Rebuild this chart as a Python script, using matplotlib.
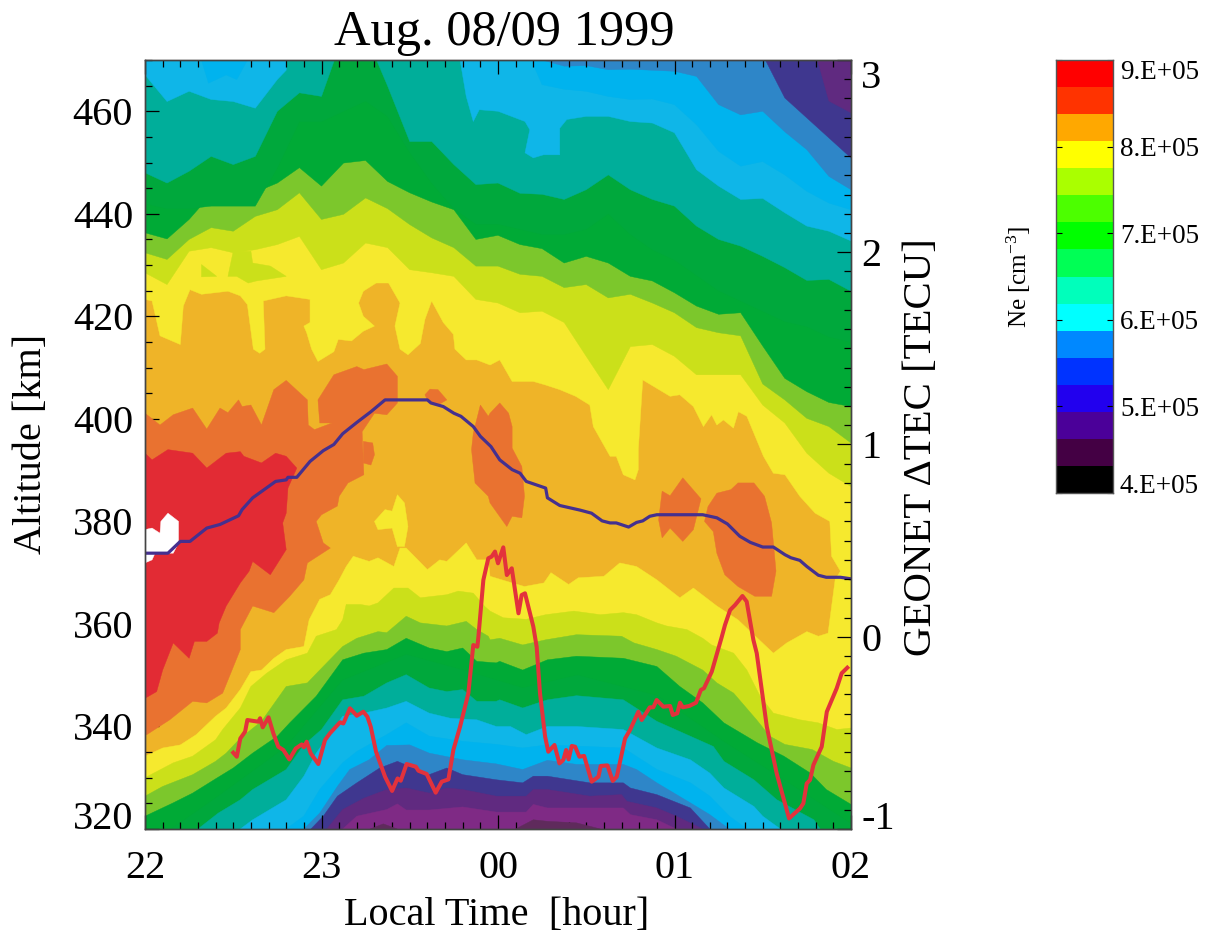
import matplotlib
matplotlib.use("Agg")
import matplotlib.pyplot as plt
from matplotlib.colors import ListedColormap, BoundaryNorm
from matplotlib.ticker import MultipleLocator
import numpy as np

plt.rcParams['font.family'] = ['Liberation Serif', 'DejaVu Serif']
plt.rcParams['mathtext.default'] = 'regular'

# ---------- titles and ticks ----------
title = "Aug. 08/09 1999"
x_label = "Local Time  [hour]"
y_label = "Altitude [km]"
y2_label = "GEONET \u0394TEC [TECU]"
cbar_label = "Ne [cm$^{-3}$]"
hour_ticks = [22, 23, 24, 25, 26]
hour_labels = ["22", "23", "00", "01", "02"]
alt_ticks = [320, 340, 360, 380, 400, 420, 440, 460]
tec_ticks = [-1, 0, 1, 2, 3]
tec_labels = ["-1", "0", "1", "2", "3"]
ne_ticks = [4, 5, 6, 7, 8, 9]
ne_labels = ["4.E+05", "5.E+05", "6.E+05", "7.E+05", "8.E+05", "9.E+05"]

# ---------- Ne colour scale (chart colours, printed colour bar colours), low to high ----------
chart_colors = ["#5f2a5c", "#7f2a85", "#602a80", "#3f378f", "#2e86c8", "#00b3ee", "#0fb6e8", "#00ae9a",
                "#00a83c", "#00aa36", "#7cc72c", "#cbe01a", "#f6e92e", "#efb428", "#e97230", "#e22b34"]
bar_colors = ["#000000", "#440044", "#4b0099", "#2200ee", "#0033ff", "#0088ff", "#00ffff", "#00ffbb",
              "#00ff55", "#00ff00", "#4cff00", "#aaff00", "#ffff00", "#ffa800", "#ff3300", "#ff0000"]
ne_edges = [4.0, 4.3125, 4.625, 4.9375, 5.25, 5.5625, 5.875, 6.1875, 6.5, 6.8125, 7.125, 7.4375, 7.75, 8.0625,
            8.375, 8.6875, 9.0]

# ---------- topside contour altitudes on a common hour grid ----------
hours_grid = [22, 22.125, 22.25, 22.375, 22.5, 22.625, 22.75, 22.875, 23, 23.125, 23.25, 23.375, 23.5, 23.625,
              23.75, 23.875, 24, 24.125, 24.25, 24.375, 24.5, 24.625, 24.75, 24.875, 25, 25.125, 25.25, 25.375,
              25.5, 25.625, 25.75, 25.875, 26]
top_yg = [428.5, 426.2, 432.7, 433.4, 432.4, 433, 434, 435.6, 429.1, 430.4, 434.3, 433.4, 429.1, 428.5, 427.8, 423.3,
          422.6, 420.7, 421, 418.8, 412.2, 405.7, 414.1, 414.5, 412.2, 408.6, 408.6, 408.6, 402.7, 399.2, 393.3,
          389.4, 386.8]
top_lg = [432.4, 431.1, 435, 437.3, 436.6, 439.5, 440.8, 444.1, 438.9, 439.9, 443.1, 441, 437.9, 435.3, 433.4, 429.8,
          429.8, 428.2, 427.8, 425.6, 426.2, 423.6, 424.3, 422.6, 420.7, 417.8, 416.8, 416.2, 406.8, 403.7, 400.1,
          398.5, 395.3]
top_green = [436.3, 435.1, 438.9, 443.8, 442.1, 444.2, 446, 449, 445.4, 449.9, 450.4, 446.3, 444.1, 442.3, 440.8, 435,
             435.8, 434, 433.2, 430.4, 431.7, 430.4, 427.8, 426.9, 424.6, 422, 420.4, 420.7, 414.2, 407.9, 405.3,
             403.2, 402.4]
top_dkgreen = [442, 441, 441, 441.5, 441.5, 441.5, 449, 458, 458, 460, 462, 459, 452, 446, 441, 438, 438, 437, 436,
               436, 437, 440, 436, 433, 431, 428, 425, 423, 421, 419, 418, 416, 415]
top_teal = [448, 446, 448.3, 451.2, 449.6, 451.2, 460, 463.6, 462.9, 475, 475, 464.9, 454.1, 454.1, 449.6, 445.7,
            446, 444, 443.8, 442.8, 444.7, 447.6, 444.7, 442.8, 441.5, 437.6, 435, 433.7, 431.7, 429.5, 427, 427.2,
            424.9]
top_ltblue_t = [22, 22.125, 22.25, 22.375, 22.5, 22.625, 22.75, 22.8, 22.81, 23.7, 23.785, 23.82, 23.86, 23.894, 24,
                24.153, 24.18, 24.153, 24.2, 24.257, 24.35, 24.35, 24.39, 24.5, 24.625, 24.75, 24.875, 25, 25.125,
                25.25, 25.375, 25.5, 25.625, 25.75, 25.875, 26]
top_ltblue_alt = [467.1, 461.9, 463.9, 462.3, 461.9, 460.6, 466.2, 468, 475, 475, 470, 462.9, 458, 460.3, 460,
                  458, 456.4, 451.9, 450.9, 451.5, 451.5, 456.7, 458.4, 459, 459, 458, 457.7, 455.8, 448.6,
                  445.4, 442.8, 443, 440.2, 437.6, 436.6, 434.7]
top_blue = [475, 475, 475, 475, 475, 475, 475, 475, 475, 475, 475, 475, 475, 475, 475, 475,
            475, 475, 465.2, 464.3, 463.9, 462.9, 462.3, 462.4, 461.3, 457.4, 452.2, 449.3, 450.2, 447.6, 444.4,
            442.1, 440.8]
top_medblue = [475, 475, 475, 475, 475, 475, 475, 475, 475, 475, 475, 475, 475, 475, 475, 475,
               475, 475, 470, 468.8, 468.9, 468.1, 468.2, 468, 467.8, 466.8, 461.3, 459.3, 460, 456, 452.5, 447.3,
               444.7]
top_indigo_t = [25.5, 25.625, 25.75, 25.875, 26]
top_indigo_alt = [471, 462.6, 458.7, 454.8, 450.9]
top_purple_t = [25.81, 25.875, 26]
top_purple_alt = [470, 462, 459.7]

# yellow / orange edge above the density peak
top_yellow_t = [22, 22.04, 22.085, 22.2, 22.217, 22.255, 22.32, 22.47, 22.54, 22.58, 22.614, 22.65, 22.68, 22.67, 22.8,
                22.935, 22.935, 22.9, 22.916, 22.944, 22.98, 23.07, 23.095, 23.17, 23.237, 23.3, 23.237, 23.21, 23.237,
                23.31, 23.38, 23.445, 23.416, 23.445, 23.49, 23.56, 23.586, 23.624, 23.69, 23.747, 23.756, 23.82, 23.88,
                23.955, 24.01, 24.08, 24.2, 24.27, 24.35, 24.44, 24.52, 24.54, 24.635, 24.67, 24.71, 24.776, 24.795,
                24.795, 24.82, 24.975, 25.03, 25.107, 25.164, 25.21, 25.24, 25.277, 25.334, 25.362, 25.41, 25.504,
                25.56, 25.626, 25.71, 25.797, 25.88, 25.89, 25.94, 25.91, 26]
top_yellow_alt = [423.3, 423, 416.2, 414.5, 422, 425.2, 424.3, 424.9, 424, 422.3, 413.6, 412.8, 413.6, 423, 424,
                  423.3, 418.8, 418.1, 416.8, 413.6, 411.2, 413.1, 415.5, 415.2, 417.1, 418.1, 420, 422.6, 424.9,
                  426.5, 426.5, 422.6, 418.1, 413.6, 412.5, 414.7, 419.4, 423, 418.8, 416.5, 413.6, 411.5, 411.5,
                  410.5, 411.5, 407.3, 407.3, 406.6, 405.7, 404.4, 402.7, 398.5, 392.7, 392.7, 389.1, 388.1, 390.1,
                  394, 407.6, 404.4, 404.7, 402.4, 398.5, 400.8, 398.8, 399.8, 398.2, 401.4, 400.5, 392.7,
                  389.4, 389.1, 384.9, 381.6, 380, 373.2, 370.3, 368.6, 368.6]

# ---------- bottomside contour edges, each with its own hours ----------
low_yellow_t = [22, 22.1, 22.2, 22.29, 22.4, 22.46, 22.54, 22.6, 22.66, 22.73, 22.8, 22.9, 22.93, 22.99, 23.05, 23.1,
                23.14, 23.18, 23.27, 23.32, 23.41, 23.445, 23.48, 23.6, 23.67, 23.71, 23.82, 23.88, 23.945, 23.955,
                24.08, 24.15, 24.26, 24.3, 24.4, 24.455, 24.6, 24.69, 24.785, 24.9, 25.03, 25.107, 25.24, 25.36,
                25.56, 25.636, 25.75, 25.815, 25.87, 25.88, 25.91, 26]
low_yellow_alt = [334.2, 335.8, 336.4, 338.4, 342, 343.6, 347.2, 350.7, 351, 353.3, 355, 355.6, 360.8, 364.8, 365.7,
                  368.6, 371.2, 373.2, 372.2, 372.9, 371.2, 374.8, 374.8, 370.6, 372.5, 372.2, 375.8, 372.5, 372.5,
                  369.3, 368, 367.3, 368, 370, 367.7, 369, 369.3, 371.9, 371.2, 368.6, 365.1, 367, 363.5, 360.8,
                  354.3, 356.3, 358.5, 357.6, 358.2, 360.8, 368.6, 368.6]
low_yg_t = [22, 22.16, 22.27, 22.4, 22.44, 22.54, 22.6, 22.69, 22.8, 22.92, 22.97, 23.085, 23.12, 23.14, 23.22, 23.27,
            23.32, 23.41, 23.49, 23.56, 23.71, 23.775, 23.86, 23.925, 23.955, 24.03, 24.16, 24.27, 24.43, 24.58, 24.71,
            24.785, 24.9, 24.955, 25.07, 25.16, 25.21, 25.335, 25.41, 25.485, 25.56, 25.71, 25.815, 25.92, 26]
low_yg_alt = [330, 332.9, 334.2, 337.4, 339.4, 343.6, 347.8, 350.4, 353, 354.3, 357.6, 358.9, 360.8, 363.8, 363.8,
              363.5, 364.1, 367, 367, 365.1, 365.7, 366.4, 366, 363.4, 362.5, 361.2, 360.9, 361.8, 362.5, 361.8,
              362.2, 361.8, 360.2, 359.6, 358.9, 357.2, 355.9, 354.3, 351, 345.9, 342.6, 341.3, 340.7, 339.4, 339.7]
low_lg_t = [22, 22.1, 22.27, 22.4, 22.46, 22.54, 22.66, 22.8, 22.92, 22.99, 23.12, 23.2, 23.32, 23.37, 23.48, 23.56,
            23.71, 23.82, 23.88, 23.945, 23.955, 24.01, 24.14, 24.27, 24.445, 24.7, 24.77, 24.9, 25.01, 25.16, 25.24,
            25.335, 25.465, 25.54, 25.625, 25.78, 25.9, 26]
low_lg_alt = [326.4, 328.3, 330.6, 333.2, 334.8, 337.7, 341, 347.8, 348.5, 351, 355.6, 357.2, 358.5, 358.3, 361.5,
              360.2, 359.6, 360.5, 358.9, 357.6, 356.9, 357.2, 355.9, 356.9, 357.9, 357.6, 356.3, 355, 353.7, 351,
              348.5, 346.5, 341.3, 338.1, 336.5, 335.5, 333.2, 331.9]
low_green_t = [22, 22.16, 22.27, 22.41, 22.5, 22.61, 22.75, 22.82, 22.97, 23.12, 23.24, 23.37, 23.48, 23.61, 23.71,
               23.8, 23.88, 23.99, 24.01, 24.14, 24.28, 24.445, 24.71, 24.9, 25.03, 25.16, 25.28, 25.47, 25.62, 25.77,
               25.86, 26]
low_green_alt = [322.5, 325.1, 327, 330, 331.9, 334.8, 338.1, 340.7, 345.9, 353, 354.3, 355, 357.2, 355.3, 354.6,
                 355.3, 352.7, 352.4, 352.7, 351, 353, 353.7, 353.3, 351.7, 347.8, 344.6, 340.7, 336.8, 334.2, 330.9,
                 327.7, 324.8]
low_dkgreen_t = [22.15, 22.4, 22.8, 23.12, 23.48, 23.8, 24.14, 24.45, 24.9, 25.28, 25.6, 26]
low_dkgreen_alt = [320, 326, 336, 349, 354, 351, 347.5, 350, 346, 337, 330, 321]
low_teal_t = [22.3, 22.415, 22.54, 22.61, 22.8, 22.9, 23, 23.12, 23.24, 23.37, 23.48, 23.61, 23.71, 23.8, 23.88, 23.99,
              24.01, 24.14, 24.28, 24.445, 24.71, 24.9, 25.07, 25.22, 25.28, 25.45, 25.58, 25.79, 25.825]
low_teal_alt = [320, 323.1, 325.7, 327.7, 331.6, 336.4, 339.4, 345.2, 345.9, 348.5, 350.1, 347.5, 346.8, 347.2, 344.9,
                344.9, 345.2, 343.6, 345.2, 346, 345.2, 341, 338.4, 336.1, 333.2, 329.6, 325.7, 321.8, 320]
low_ltblue_t = [22.54, 22.61, 22.8, 22.9, 22.97, 23.03, 23.12, 23.24, 23.37, 23.48, 23.61, 23.73, 23.88, 23.99, 24.07,
                24.16, 24.28, 24.445, 24.71, 24.9, 25.09, 25.2, 25.28, 25.45, 25.5, 25.6]
low_ltblue_alt = [320, 321.8, 325.7, 330.3, 334.8, 337.7, 342, 342.6, 343.6, 344.9, 342.6, 341.6, 341.3, 340, 340,
                  338.4, 340, 340, 339.4, 335.8, 333.5, 330.9, 328, 324.4, 322.5, 320]
low_blue_t = [22.8, 22.9, 22.99, 23.12, 23.2, 23.37, 23.48, 23.61, 23.8, 23.99, 24.14, 24.28, 24.71, 24.9, 25.09, 25.2,
              25.31, 25.41]
low_blue_alt = [320, 322.5, 327.7, 332.9, 335.1, 338.4, 340.7, 338.1, 337.1, 336.5, 335.8, 336.4, 335.8, 331.6, 329,
                326.4, 322.5, 320]
low_medblue_t = [22.9, 22.99, 23.09, 23.16, 23.27, 23.37, 23.5, 23.61, 23.8, 23.99, 24.14, 24.28, 24.445, 24.71,
                 24.785, 24.9, 25.09, 25.2, 25.31]
low_medblue_alt = [320, 323.1, 328.3, 331.6, 333.5, 336.3, 336.4, 334.8, 333.5, 332.7, 331.6, 333.4, 332.6, 332.6,
                   331.6, 329, 325.1, 322.8, 320]
low_indigo_t = [22.94, 23.01, 23.09, 23.2, 23.33, 23.43, 23.5, 23.61, 23.71, 23.8, 23.99, 24.14, 24.2, 24.28, 24.52,
                24.71, 24.75, 24.9, 25.09, 25.2]
low_indigo_alt = [320, 322.5, 326.4, 329, 331.9, 333.2, 332.2, 330.6, 331.9, 330.6, 329.6, 329, 330.3, 330.3, 329, 329,
                  328, 326.7, 324.1, 320]
low_purple_t = [23.03, 23.12, 23.24, 23.37, 23.48, 23.61, 23.71, 23.8, 23.99, 24.16, 24.2, 24.28, 24.52, 24.7, 24.73,
                24.9, 25.01, 25.16]
low_purple_alt = [320, 323.8, 326, 327.7, 328, 327, 328, 327.7, 326.4, 326.4, 327.7, 327.7, 326.4, 326.7, 325.4, 324.1,
                  322.5, 320]
low_magenta_t = [23.12, 23.2, 23.37, 23.43, 23.48, 23.61, 23.8, 23.99, 24.16, 24.2, 24.28, 24.71, 24.75, 24.9, 25.01]
low_magenta_alt = [320, 322.5, 323.8, 324.9, 323.7, 323.7, 324.3, 323.3, 323.3, 324.8, 324.1, 324.1, 322.8, 321.8, 320]

# ---------- closed contour patches ----------
plum_a_t = [24.1, 24.2, 24.28, 24.445, 24.58]
plum_a_alt = [320, 321.8, 321.5, 321.2, 320]
plum_b_t = [23.275, 23.35, 23.43]
plum_b_alt = [320, 321, 320]
blue_patch_t = [22.32, 22.36, 22.46, 22.52, 22.58]
blue_patch_alt = [470, 465.5, 467.1, 466.2, 470]
yg_patch_a_t = [22.32, 22.406, 22.32]
yg_patch_a_alt = [430.1, 427.8, 427.7]
yg_patch_b_t = [22.5, 22.6, 22.61, 22.71, 22.8, 22.63, 22.585, 22.52, 22.47]
yg_patch_b_alt = [432.7, 432.7, 430.4, 429.8, 427.8, 426.9, 426.5, 427.8, 427.8]
yellow_patch_t = [23.3, 23.36, 23.4, 23.43, 23.47, 23.49, 23.47, 23.43, 23.4, 23.32]
yellow_patch_alt = [380, 382.3, 382, 385.2, 383.6, 379, 375.1, 375.1, 378.7, 378.4]
ro_main_t = [22, 22.085, 22.16, 22.27, 22.35, 22.425, 22.47, 22.53, 22.55, 22.6, 22.66, 22.73, 22.8, 22.92, 22.925,
             22.96, 23.06, 22.99, 22.98, 23.07, 23.2, 23.24, 23.37, 23.43, 23.43, 23.37, 23.3, 23.23, 23.24, 23.15,
             23.1, 23.09, 23, 22.97, 23.01, 23.05, 22.92, 22.9, 22.82, 22.73, 22.61, 22.54, 22.54, 22.44, 22.35, 22.27,
             22.14, 22.01, 22]
ro_main_alt = [401.1, 398.8, 400.8, 402.1, 398, 402.1, 401.2, 403.7, 402.4, 402.7, 398.8, 405.7, 407.5, 403.7, 398.8,
               397.9, 399.2, 399.2, 403.7, 408.6, 410.2, 409.6, 410.7, 408.3, 403.1, 400.8, 401.1, 397.5, 389.1, 387.5,
               384.9, 383, 381.3, 380, 375.8, 374.8, 371.9, 368.6, 365.4, 362.2, 363.5, 358.9, 355, 346.5, 344.6, 344.9,
               341.3, 338.4, 338.4]
ro_a_t = [23.237, 23.29, 23.3, 23.28, 23.237]
ro_a_alt = [395.6, 395.3, 393, 391, 391.4]
ro_b_t = [23.586, 23.615, 23.66, 23.71, 23.66, 23.6]
ro_b_alt = [404.7, 405.8, 405.7, 403.7, 402.7, 403.7]
ro_c_t = [23.86, 23.9, 23.945, 23.955, 24.01, 24.06, 24.08, 24.08, 24.135, 24.15, 24.135, 24.08, 24.05, 23.955, 23.945,
          23.87, 23.85]
ro_c_alt = [397.2, 402.7, 400.5, 401.1, 403.1, 401.1, 398.5, 394.3, 390.7, 384.9, 380.7, 381, 379, 383.6, 384.9, 387.5,
            394]
ro_d_t = [24.93, 24.975, 25.047, 25.15, 25.107, 25.047, 24.975, 24.93, 24.91]
ro_d_alt = [385.9, 385, 388.5, 384.4, 378.4, 376.1, 378.7, 376.8, 380.3]
ro_e_t = [25.19, 25.24, 25.32, 25.36, 25.45, 25.51, 25.55, 25.575, 25.55, 25.455, 25.36, 25.285, 25.24, 25.22, 25.17]
ro_e_alt = [382.9, 385.5, 386.2, 387.5, 387.5, 384.9, 379.7, 370.3, 365.4, 365.4, 367.3, 369.6, 373.8, 378, 380]
red_t = [22, 22.04, 22.13, 22.27, 22.35, 22.46, 22.54, 22.56, 22.66, 22.74, 22.8, 22.86, 22.81, 22.8, 22.78, 22.8,
         22.71, 22.61, 22.59, 22.54, 22.46, 22.42, 22.41, 22.35, 22.28, 22.25, 22.16, 22.1, 22.066, 22]
red_alt = [393.3, 392, 394, 393.3, 390.4, 393.3, 393.6, 392.7, 391.4, 393.3, 392.7, 390.4, 386.5, 381.6, 379.7, 374.5,
           369.6, 372.2, 370.3, 368, 363.5, 360.2, 358.2, 356.6, 356.6, 353.3, 356.3, 351, 346.8, 345.5]
over_t = [22, 22.04, 22.085, 22.09, 22.13, 22.19, 22.19, 22.16, 22.057, 22.04, 22]
over_alt = [378.4, 378.7, 377.7, 380, 381.6, 380, 375.8, 373.8, 373.8, 372.5, 371.9]

# ---------- line series ----------
hmf2_t = [22, 22.13, 22.2, 22.255, 22.35, 22.425, 22.53, 22.55, 22.61, 22.74, 22.8, 22.81, 22.86, 22.935, 23.01, 23.07,
          23.12, 23.2, 23.28, 23.36, 23.6, 23.62, 23.69, 23.75, 23.79, 23.86, 23.9, 23.96, 24.01, 24.08, 24.125, 24.16,
          24.27, 24.28, 24.35, 24.465, 24.53, 24.59, 24.635, 24.67, 24.74, 24.785, 24.82, 24.86, 24.9, 25.16, 25.24,
          25.3, 25.37, 25.43, 25.5, 25.56, 25.626, 25.66, 25.71, 25.75, 25.815, 25.86, 25.94, 26]
hmf2_alt = [373.8, 373.8, 376.1, 376.1, 378.7, 379.4, 381.1, 382.3, 384.6, 387.8, 388.1, 388.6, 388.6, 391.7, 393.8, 395,
            397.1, 399.3, 401.4, 403.7, 403.7, 403.1, 402.4, 401.1, 400.5, 398.5, 396.6, 394.6, 392, 390.1, 389.4, 387.8,
            386.5, 384.6, 383.1, 382.2, 381.6, 380.1, 379.7, 379.7, 378.9, 379.8, 380.1, 381, 381.3, 381.3, 380.7,
            379.5, 377.1, 375.9, 375, 375, 373.5, 372.9, 372.4, 371.2, 369.5, 369.1, 369.1, 368.8]
dtec_t = [22.5, 22.52, 22.54, 22.567, 22.58, 22.642, 22.652, 22.667, 22.7, 22.727, 22.755, 22.784, 22.818, 22.854, 22.888,
          22.9, 22.916, 22.939, 22.982, 23.02, 23.048, 23.105, 23.124, 23.161, 23.2, 23.237, 23.26, 23.279, 23.309, 23.36,
          23.4, 23.431, 23.449, 23.482, 23.535, 23.549, 23.596, 23.647, 23.681, 23.719, 23.747, 23.785, 23.832, 23.86,
          23.883, 23.889, 23.917, 23.945, 23.964, 23.983, 24.0, 24.03, 24.05, 24.078, 24.116, 24.134, 24.153, 24.2,
          24.219, 24.238, 24.267, 24.285, 24.32, 24.348, 24.37, 24.386, 24.4, 24.418, 24.437, 24.461, 24.488, 24.531,
          24.569, 24.582, 24.62, 24.65, 24.673, 24.72, 24.748, 24.795, 24.814, 24.86, 24.88, 24.899, 24.937, 24.975,
          24.99, 25.016, 25.031, 25.047, 25.084, 25.122, 25.149, 25.167, 25.211, 25.268, 25.286, 25.315, 25.343, 25.385,
          25.409, 25.447, 25.466, 25.523, 25.579, 25.649, 25.711, 25.73, 25.749, 25.768, 25.787, 25.834, 25.863, 25.919,
          25.947, 25.979]
dtec_val = [-0.603, -0.624, -0.529, -0.494, -0.433, -0.442, -0.424, -0.471, -0.419, -0.502, -0.572, -0.589, -0.638, -0.581,
            -0.56, -0.575, -0.546, -0.607, -0.662, -0.537, -0.502, -0.445, -0.451, -0.372, -0.411, -0.39, -0.416, -0.468,
            -0.598, -0.728, -0.802, -0.737, -0.749, -0.662, -0.676, -0.697, -0.714, -0.811, -0.754, -0.742, -0.589, -0.468,
            -0.294, -0.043, -0.052, 0.0, 0.295, 0.408, 0.417, 0.443, 0.382, 0.465, 0.321, 0.356, 0.122, 0.217, 0.226, 0.053,
            -0.052, -0.294, -0.52, -0.598, -0.563, -0.659, -0.641, -0.589, -0.638, -0.568, -0.572, -0.624, -0.62, -0.754,
            -0.728, -0.672, -0.669, -0.75, -0.728, -0.529, -0.485, -0.39, -0.433, -0.367, -0.367, -0.329, -0.364, -0.36,
            -0.407, -0.398, -0.343, -0.367, -0.36, -0.343, -0.277, -0.268, -0.182, 0.0, 0.061, 0.139, 0.165, 0.212, 0.183,
            -0.017, -0.086, -0.468, -0.711, -0.945, -0.893, -0.867, -0.763, -0.745, -0.667, -0.572, -0.39, -0.268, -0.19,
            -0.161]

# ---------- figure ----------
W, H = 1211, 933
fig = plt.figure(figsize=(W / 100, H / 100), dpi=100)
ax = fig.add_axes([145 / W, 1 - 829 / H, 706 / W, 769 / H])
ax.set_xlim(22, 26)
ax.set_ylim(320, 470)
ax.set_facecolor(chart_colors[13])
C = {n: chart_colors[i] for i, n in enumerate(["plum", "magenta", "purple", "indigo", "medblue", "blue", "ltblue", "teal",
                                               "dkgreen", "green", "lg", "yg", "yellow", "orange", "ro", "red"])}


def above(t, a, col):
    ax.fill(list(t) + [t[-1], t[0]], list(a) + [480, 480], color=col, lw=0.3, zorder=2)


def below(t, a, col):
    ax.fill(list(t) + [t[-1], t[0]], list(a) + [310, 310], color=col, lw=0.3, zorder=2)


def patch(t, a, col, z=3):
    ax.fill(t, a, color=col, lw=0.3, zorder=z)


ax.fill(list(top_yellow_t) + [26, 22], list(top_yellow_alt) + [480, 480], color=C["yellow"], lw=0.3, zorder=2)
for t, a, key in [(hours_grid, top_yg, "yg"), (hours_grid, top_lg, "lg"), (hours_grid, top_green, "green"),
                  (hours_grid, top_dkgreen, "dkgreen"), (hours_grid, top_teal, "teal"),
                  (top_ltblue_t, top_ltblue_alt, "ltblue"), (hours_grid, top_blue, "blue"),
                  (hours_grid, top_medblue, "medblue")]:
    above(t, a, C[key])
above(top_indigo_t, top_indigo_alt, C["indigo"])
above(top_purple_t, top_purple_alt, C["purple"])

for t, a, key in [(low_yellow_t, low_yellow_alt, "yellow"), (low_yg_t, low_yg_alt, "yg"), (low_lg_t, low_lg_alt, "lg"),
                  (low_green_t, low_green_alt, "green"), (low_dkgreen_t, low_dkgreen_alt, "dkgreen"),
                  (low_teal_t, low_teal_alt, "teal"), (low_ltblue_t, low_ltblue_alt, "ltblue"),
                  (low_blue_t, low_blue_alt, "blue"), (low_medblue_t, low_medblue_alt, "medblue"),
                  (low_indigo_t, low_indigo_alt, "indigo"), (low_purple_t, low_purple_alt, "purple"),
                  (low_magenta_t, low_magenta_alt, "magenta")]:
    below(t, a, C[key])

patch(plum_a_t, plum_a_alt, C["plum"])
patch(plum_b_t, plum_b_alt, C["plum"])
patch(blue_patch_t, blue_patch_alt, C["blue"])
patch(yg_patch_a_t, yg_patch_a_alt, C["yg"])
patch(yg_patch_b_t, yg_patch_b_alt, C["yg"])
patch(yellow_patch_t, yellow_patch_alt, C["yellow"])
for t, a in [(ro_main_t, ro_main_alt), (ro_a_t, ro_a_alt), (ro_b_t, ro_b_alt), (ro_c_t, ro_c_alt), (ro_d_t, ro_d_alt),
             (ro_e_t, ro_e_alt)]:
    patch(t, a, C["ro"])
patch(red_t, red_alt, C["red"], 4)
patch(over_t, over_alt, "#ffffff", 5)

ax.plot(hmf2_t, hmf2_alt, color="#45308f", lw=2.3, zorder=6, solid_joinstyle="round")

tick_c = "#000000"
ax.set_xticks(hour_ticks, hour_labels)
ax.xaxis.set_minor_locator(MultipleLocator(0.1))
ax.set_yticks(alt_ticks)
ax.yaxis.set_minor_locator(MultipleLocator(5))
ax.tick_params(which="major", direction="in", length=10, width=0.9, top=True, bottom=True, left=True, right=False,
               color=tick_c, labelsize=29)
ax.tick_params(which="minor", direction="in", length=5, width=0.9, top=True, bottom=True, left=True, right=False,
               color=tick_c)
ax.tick_params(axis="y", which="major", pad=8.6)
ax.tick_params(axis="x", which="major", pad=15)
for s in ax.spines.values():
    s.set_color("#444444")
    s.set_linewidth(1.0)
    s.set_zorder(10)
ax.get_yticklabels()[0].set_verticalalignment("baseline")
ax.set_axisbelow(False)

ax2 = ax.twinx()
ax2.set_ylim(-1, 3)
ax2.plot(dtec_t, dtec_val, color="#e3323c", lw=2.9, zorder=6, solid_joinstyle="round")
ax2.set_yticks(tec_ticks, tec_labels)
ax2.yaxis.set_minor_locator(MultipleLocator(0.1))
ax2.tick_params(which="major", direction="in", length=10, width=0.9, right=True, left=False, labelsize=29, pad=7.5,
                color=tick_c)
ax2.tick_params(which="minor", direction="in", length=5, width=0.9, right=True, left=False, color=tick_c)
ax2.get_yticklabels()[0].set_verticalalignment("baseline")
ax2.get_yticklabels()[-1].set_verticalalignment("top")
for s in ax2.spines.values():
    s.set_color("#444444")
    s.set_linewidth(1.0)

ax.set_title(title, fontsize=36.4, pad=11, x=(504 - 145) / 706)
ax.set_xlabel(x_label, fontsize=29)
ax.xaxis.set_label_coords(497 / W, 1 - 915 / H, transform=fig.transFigure)
ax.xaxis.label.set_verticalalignment("center")
ax.set_ylabel(y_label, fontsize=29)
ax.yaxis.set_label_coords(32 / W, 1 - 444 / H, transform=fig.transFigure)
ax.yaxis.label.set_verticalalignment("center")
ax2.set_ylabel(y2_label, fontsize=29.4)
ax2.yaxis.set_label_coords(922 / W, 1 - 447 / H, transform=fig.transFigure)
ax2.yaxis.label.set_verticalalignment("center")

# colour bar
cax = fig.add_axes([1056 / W, 1 - 493 / H, 57 / W, 433 / H])
cmap = ListedColormap(bar_colors)
norm = BoundaryNorm(ne_edges, cmap.N)
cax.pcolormesh([0, 1], ne_edges, np.array([[e] for e in ne_edges[:-1]]) + 0.01, cmap=cmap, norm=norm, shading="flat")
cax.set_xticks([])
cax.set_ylim(4, 9)
cax.yaxis.tick_right()
cax.set_yticks(ne_ticks, ne_labels)
cax.tick_params(axis="y", direction="in", length=4, width=0.8, left=True, right=True, labelsize=19.5, pad=5)
cax.get_yticklabels()[0].set_verticalalignment("baseline")
cax.get_yticklabels()[-1].set_verticalalignment("top")
for s in cax.spines.values():
    s.set_color("#555555")
    s.set_linewidth(1.0)
fig.text(1019 / W, 1 - 277 / H, cbar_label, rotation=90, ha="center", va="center", fontsize=18)

fig.savefig("out.png", dpi=100)
